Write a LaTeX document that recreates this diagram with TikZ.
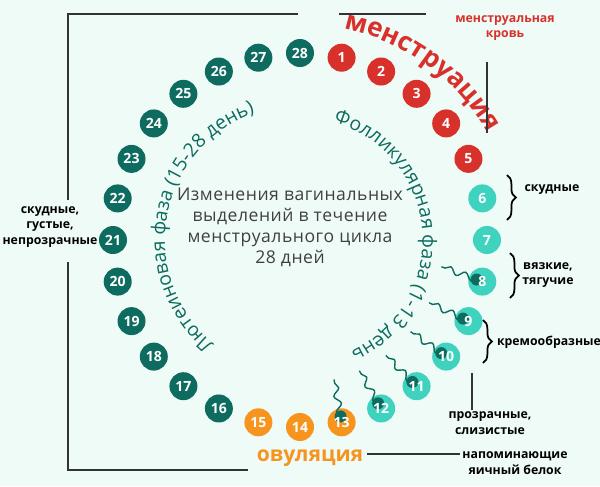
\documentclass[tikz,border=0pt]{standalone}
\usepackage{fontspec}
\setmainfont{Open Sans}
\usetikzlibrary{decorations.text,decorations.pathmorphing,decorations.pathreplacing}
\definecolor{bgmint}{HTML}{EFFBF7}
\definecolor{menred}{HTML}{D8312B}
\definecolor{darkteal}{HTML}{0E6B5F}
\definecolor{lightteal}{HTML}{3FD2BF}
\definecolor{ovorange}{HTML}{F7941D}
\definecolor{linegray}{HTML}{333333}
\tikzset{
  day/.style={circle,minimum size=0.56cm,inner sep=0pt,text=white,font=\bfseries\fontsize{8}{8}\selectfont},
  frame/.style={linegray,line width=1.2pt},
  note/.style={font=\bfseries\fontsize{7}{9}\selectfont,align=center},
  brace/.style={decorate,decoration={brace,amplitude=5pt},line width=1pt}
}
\begin{document}
\begin{tikzpicture}

            %\draw [help lines] (-6,-5) grid (6,5);
            \fill[bgmint] (-6,-4.92) rectangle (6,4.8);
            \useasboundingbox (-6,-4.92) rectangle (6,4.8);

            % days
            \foreach \d in {1,...,28}{
                \ifnum\d<6 \def\dcol{menred}\else
                \ifnum\d<13 \def\dcol{lightteal}\else
                \ifnum\d<16 \def\dcol{ovorange}\else \def\dcol{darkteal}\fi\fi\fi
                \node[day,fill=\dcol] (d\d) at ({90-12.857*\d}:3.74) {};
            }

            % sperm on days 8 to 13
            \foreach \d/\a in {8/160,9/155,10/145,11/135,12/120,13/100}{
                \path (d\d.center) ++(\a:0.12) coordinate (h\d);
                \draw[darkteal,line width=0.8pt,decorate,decoration={snake,amplitude=1.8pt,segment length=9pt}]
                    (h\d) -- ++(\a:0.75);
                \fill[darkteal] (h\d) circle (0.12);
            }
            \foreach \d in {1,...,28}
                \node[day] at (d\d) {\d};

            % phase titles
            \path[decorate,decoration={text along path,text align=center,
                text={|\color{menred}\bfseries\fontsize{15}{15}\selectfont|менструация}}]
                (84:4.32) arc (84:24:4.32);
            \path[decorate,decoration={text along path,text align=center,
                text={|\color{darkteal}\fontsize{11}{11}\selectfont|Фолликулярная фаза (1-13 день)}}]
                (70:2.45) arc (70:-64:2.45);
            \path[decorate,decoration={text along path,text align=center,
                text={|\color{darkteal}\fontsize{11}{11}\selectfont|Лютеиновая фаза (15-28 день)}}]
                (236:2.7) arc (236:104:2.7);
            \node (ovul) at (0.2,-4.36) {\color{ovorange}\bfseries\fontsize{12}{12}\selectfont овуляция};

            \node[font=\fontsize{10}{12}\selectfont\addfontfeatures{LetterSpace=3},align=center,text=black!75]
                (title) at (-0.2,0.25) {Изменения вагинальных\\выделений в течение\\менструального цикла\\28 дней};

            % frame lines
            \draw[frame] (-0.04,4.52) -- (-4.64,4.52) -- (-4.64,0.8);
            \draw[frame] (-4.64,-0.44) -- (-4.64,-4.6) -- (-1.04,-4.6);
            \draw[frame] (0.78,4.52) -- (2.52,4.52);
            \draw[frame] (3.74,3.56) -- (3.74,2.14);
            \draw[frame] (3.44,-2.66) -- (3.44,-3.4);
            \draw[frame] (1.34,-4.28) -- (3.2,-4.28);

            % braces and notes
            \draw[brace] (4.14,1.3) -- (4.14,0.4);
            \draw[brace] (4.2,-0.26) -- (4.2,-1.16);
            \draw[brace] (3.66,-1.6) -- (3.66,-2.46);
            \node[note,text=menred] (blood) at (4.1,4.24) {менструальная\\кровь};
            \node[note] (scant) at (5.04,1.0) {скудные};
            \node[note] (visc) at (4.96,-0.7) {вязкие,\\тягучие};
            \node[note] (cream) at (4.98,-2.04) {кремообразные};
            \node[note] (clear) at (3.8,-3.66) {прозрачные,\\слизистые};
            \node[note] (egg) at (4.3,-4.46) {напоминающие\\яичный белок};
            \node[note] (thick) at (-5.0,0.26) {скудные,\\густые,\\непрозрачные};
        \end{tikzpicture}
\end{document}
